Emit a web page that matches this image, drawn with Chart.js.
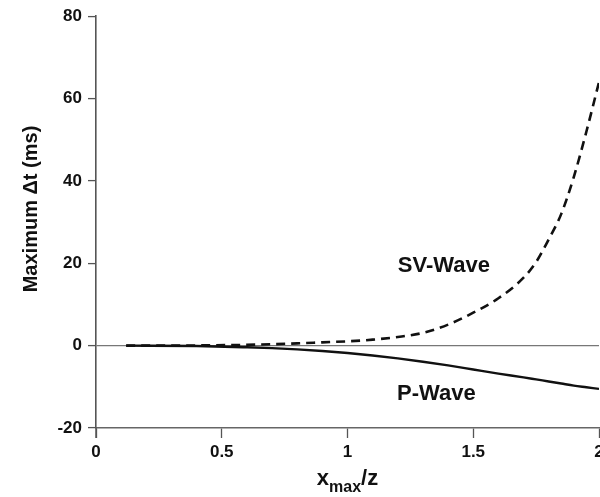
<!DOCTYPE html>
<html>
<head>
<meta charset="utf-8">
<script src="https://cdn.jsdelivr.net/npm/chart.js@4"></script>
<style>
  html, body { margin: 0; padding: 0; background: #fff; overflow: hidden; }
  #wrap { width: 610px; height: 497px; }
</style>
</head>
<body>
<div id="wrap"><canvas id="c" width="610" height="497"></canvas></div>
<script>
// ---- data ----
const xValues = [0.12, 0.4, 0.6, 0.7, 0.8, 0.9, 1.0, 1.1, 1.2, 1.3, 1.4, 1.5, 1.6, 1.7, 1.75, 1.8, 1.85, 1.9, 1.95, 2.0];
const svWave  = [0, 0.05, 0.2, 0.35, 0.55, 0.8, 1.05, 1.45, 2.1, 3.1, 5.1, 8.0, 11.5, 16.5, 20.3, 25.8, 32.0, 41.0, 52.0, 64.0];
const pWave   = [0, -0.1, -0.4, -0.6, -0.9, -1.3, -1.8, -2.4, -3.1, -3.9, -4.8, -5.8, -6.8, -7.7, -8.2, -8.7, -9.2, -9.7, -10.1, -10.5];
const xTicks = [0, 0.5, 1, 1.5, 2];
const yTicks = [-20, 0, 20, 40, 60, 80];
const seriesLabels = ['SV-Wave', 'P-Wave'];
const yTitle = 'Maximum \u0394t (ms)';

const FONT = '"Liberation Sans", Arial, Helvetica, sans-serif';

const toPts = ys => xValues.map((x, i) => ({ x: x, y: ys[i] }));

const decor = {
  id: 'decor',
  afterDraw(chart) {
    const ctx = chart.ctx;
    const xs = chart.scales.x, ys = chart.scales.y;
    ctx.save();
    // small extension of y axis below x axis
    ctx.strokeStyle = '#555';
    ctx.lineWidth = 1.5;
    ctx.beginPath();
    ctx.moveTo(ys.right, xs.top);
    ctx.lineTo(ys.right, xs.top + 10);
    ctx.stroke();

    ctx.fillStyle = '#111';
    // curve labels
    ctx.font = 'bold 22px ' + FONT;
    ctx.textAlign = 'left';
    ctx.textBaseline = 'alphabetic';
    ctx.fillText(seriesLabels[0], xs.getPixelForValue(1.2), ys.getPixelForValue(17.8));
    ctx.fillText(seriesLabels[1], xs.getPixelForValue(1.197), ys.getPixelForValue(-13.1));

    // y axis title (rotated)
    ctx.save();
    ctx.translate(37, 209);
    ctx.rotate(-Math.PI / 2);
    ctx.textAlign = 'center';
    ctx.font = 'bold 20px ' + FONT;
    ctx.fillText(yTitle, 0, 0);
    ctx.restore();

    // x axis title with subscript: x_max/z
    const cx = (chart.chartArea.left + chart.chartArea.right) / 2;
    const fMain = 'bold 22px ' + FONT, fSub = 'bold 16px ' + FONT;
    ctx.font = fMain; const w1 = ctx.measureText('x').width;
    ctx.font = fSub;  const w2 = ctx.measureText('max').width;
    ctx.font = fMain; const w3 = ctx.measureText('/z').width;
    let x0 = cx - (w1 + w2 + w3) / 2;
    const base = 485;
    ctx.textAlign = 'left';
    ctx.font = fMain; ctx.fillText('x', x0, base); x0 += w1;
    ctx.font = fSub;  ctx.fillText('max', x0, base + 7); x0 += w2;
    ctx.font = fMain; ctx.fillText('/z', x0, base);
    ctx.restore();
  }
};

new Chart(document.getElementById('c'), {
  type: 'line',
  data: {
    datasets: [
      {
        label: seriesLabels[0],
        data: toPts(svWave),
        borderColor: '#111',
        borderWidth: 2.6,
        borderDash: [9, 6],
        pointRadius: 0,
        fill: false,
        cubicInterpolationMode: 'monotone'
      },
      {
        label: seriesLabels[1],
        data: toPts(pWave),
        borderColor: '#111',
        borderWidth: 2.4,
        pointRadius: 0,
        fill: false,
        cubicInterpolationMode: 'monotone'
      }
    ]
  },
  options: {
    responsive: false,
    animation: false,
    events: [],
    layout: { padding: { top: 15, right: 11, left: 0, bottom: 0 } },
    plugins: { legend: { display: false }, tooltip: { enabled: false } },
    scales: {
      x: {
        type: 'linear',
        min: 0, max: 2,
        afterBuildTicks: s => { s.ticks = xTicks.map(v => ({ value: v })); },
        afterFit: s => { s.height = 69; },
        ticks: {
          color: '#111',
          font: { family: FONT, size: 17, weight: 'bold' },
          padding: 4,
          maxRotation: 0,
          callback: v => String(v)
        },
        grid: {
          drawOnChartArea: false,
          drawTicks: true,
          tickLength: 10,
          tickColor: '#555',
          tickWidth: 1.3
        },
        border: { display: true, color: '#666', width: 1.5 }
      },
      y: {
        type: 'linear',
        min: -20, max: 80,
        afterBuildTicks: s => { s.ticks = yTicks.map(v => ({ value: v })); },
        afterFit: s => { s.width = 96; },
        ticks: {
          color: '#111',
          font: { family: FONT, size: 17, weight: 'bold' },
          padding: 6,
          callback: v => String(v)
        },
        grid: {
          drawOnChartArea: true,
          drawTicks: true,
          tickLength: 8,
          color: ctx => (ctx.tick && ctx.tick.value === 0) ? '#777' : 'rgba(0,0,0,0)',
          lineWidth: 1.2,
          tickColor: '#555',
          tickWidth: 1.3
        },
        border: { display: true, color: '#555', width: 1.6 }
      }
    }
  },
  plugins: [decor]
});
</script>
</body>
</html>
